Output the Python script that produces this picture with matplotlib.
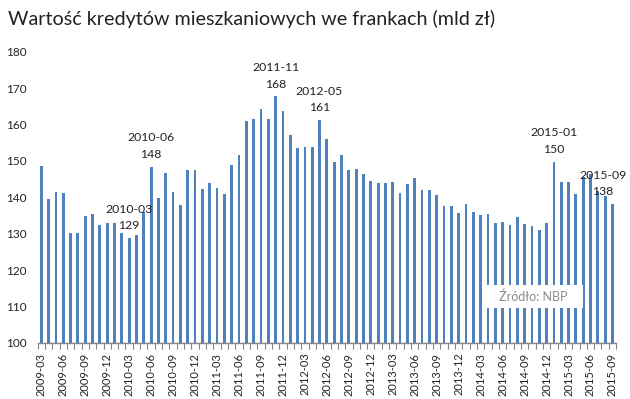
import matplotlib
matplotlib.use("Agg")
import matplotlib.pyplot as plt
from matplotlib.patches import Rectangle
import numpy as np

plt.rcParams['font.family'] = ['Lato', 'DejaVu Sans']

title = "Wartość kredytów mieszkaniowych we frankach (mld zł)"
start_year, start_month = 2009, 3
values = [
    148.6, 139.6, 141.5, 141.1, 130.3, 130.3, 134.9, 135.3, 132.3, 132.9,
    132.9, 130.1, 128.8, 129.6, 136.1, 148.4, 139.9, 146.6, 141.6, 137.9,
    147.5, 147.5, 142.3, 144.0, 142.7, 141.0, 148.8, 151.7, 161.0, 161.4,
    164.2, 161.4, 167.7, 163.7, 157.2, 153.5, 153.7, 153.7, 161.2, 156.0,
    149.7, 151.7, 147.5, 147.8, 146.3, 144.5, 144.0, 143.9, 144.2, 141.3,
    143.8, 145.3, 142.0, 142.0, 140.7, 137.6, 137.6, 135.8, 138.3, 136.1,
    135.1, 135.3, 132.9, 133.3, 132.3, 134.6, 132.7, 132.1, 131.0, 132.9,
    149.8, 144.2, 144.2, 140.8, 145.5, 146.3, 141.7, 140.5, 138.1,
]
labels = []
y, m = start_year, start_month
for _ in values:
    labels.append(f"{y}-{m:02d}")
    m += 1
    if m > 12:
        m = 1
        y += 1

annotated = {"2010-03": "129", "2010-06": "148", "2011-11": "168",
             "2012-05": "161", "2015-01": "150", "2015-09": "138"}
annot_shift = {"2015-09": -7}
source_text = "Źródło: NBP"
yticks = [100, 110, 120, 130, 140, 150, 160, 170, 180]

fig = plt.figure(figsize=(6.30, 3.99), dpi=100)
ax = fig.add_axes([0.0597, 0.1404, 0.9183, 0.73])
x = np.arange(len(values))
ax.bar(x, values, width=0.38, color='#4F81BD', zorder=2)
ax.set_xlim(-0.5, len(values) - 0.5)
ax.set_ylim(100, 180)
ax.set_yticks(yticks)
ax.tick_params(axis='y', length=0, labelsize=8.5, pad=8, labelcolor='#222222')
for s in ['top', 'right', 'left']:
    ax.spines[s].set_visible(False)
ax.spines['bottom'].set_color('#868686')
ax.spines['bottom'].set_linewidth(1.0)

ax.set_xticks(x[::3])
ax.set_xticklabels(labels[::3], rotation=90, fontsize=8, color='#222222')
ax.tick_params(axis='x', which='major', length=0, pad=7)
ax.set_xticks(np.arange(-0.5, len(values)), minor=True)
ax.tick_params(axis='x', which='minor', length=4, color='#868686', width=0.8)

for i, lab in enumerate(labels):
    if lab in annotated:
        dx = annot_shift.get(lab, 0)
        ax.annotate(f"{lab}\n{annotated[lab]}", (x[i], values[i]),
                    xytext=(dx, 5), textcoords='offset points',
                    ha='center', va='bottom', fontsize=8.8,
                    linespacing=1.6, color='#222222', zorder=4)

fig.text(0.012, 0.953, title, fontsize=14.2, ha='left', va='center', color='#222222')

ax.add_patch(Rectangle((0.7695, 0.120), 0.1728, 0.079, transform=ax.transAxes,
                       facecolor='white', edgecolor='none', zorder=5))
ax.text(0.856, 0.16, source_text, transform=ax.transAxes,
        ha='center', va='center', fontsize=9, color='#8c8c8c', zorder=6)

fig.savefig("out.png", dpi=100)
